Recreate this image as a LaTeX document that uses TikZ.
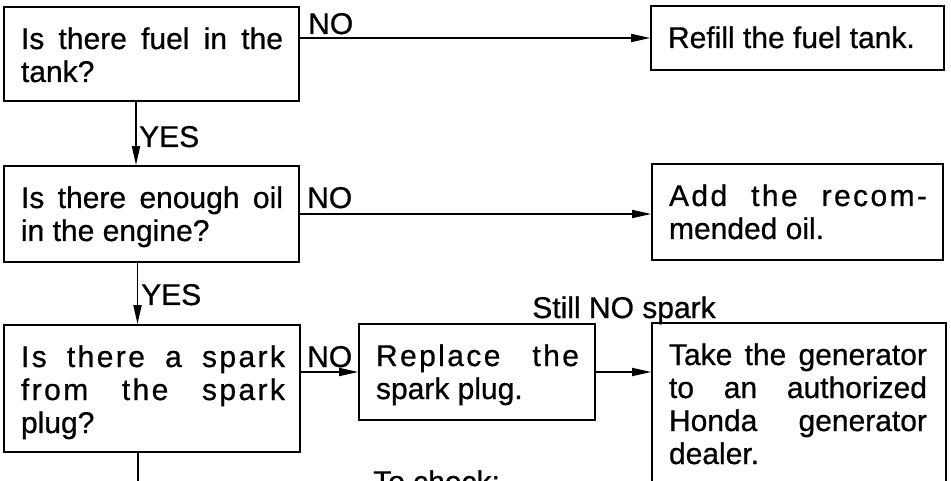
\documentclass[tikz,border=0pt]{standalone}
\usepackage{fontspec}
\setmainfont{Liberation Sans}[FakeBold=0.7]
\newfontfamily\widefont{Liberation Sans}[LetterSpace=8,FakeBold=0.7]
\usetikzlibrary{arrows.meta}
\newcommand\fbx[3]{\parbox[c][#2][t]{#1}{\setlength\parindent{0pt}\setlength\leftskip{17pt}\setlength\rightskip{0pt plus 1fil}\vspace*{20pt}\setlength\baselineskip{33pt}\rule{0pt}{22pt}#3\par}}
\begin{document}
\begin{tikzpicture}[x=1pt,y=-1pt,
  font=\fontsize{30}{33}\selectfont,
  boxnode/.style={draw, line width=1.7pt, inner sep=0pt, rectangle},
  conn/.style={line width=1.7pt},
  arr/.style={conn, -{Triangle[length=19pt,width=8pt]}},
  lbl/.style={inner sep=0pt, anchor=base west}]
\useasboundingbox (0,0) rectangle (951,481);
\fill[white] (0,0) rectangle (951,481);
\clip (0,0) rectangle (951,481);

\node[boxnode] (b1) at (151.5,54) {\fbx{295pt}{94pt}{\makebox[262pt][s]{Is there fuel in the}\\ tank?}};
\node[boxnode] (b2) at (151.5,214) {\fbx{295pt}{96pt}{\makebox[262pt][s]{Is there enough oil}\\ in the engine?}};
\node[boxnode] (b3) at (152,388.5) {\fbx{296pt}{127pt}{\makebox[264pt][s]{\widefont Is there a spark}\\ \makebox[264pt][s]{\widefont from the spark}\\ plug?}};
\node[boxnode] (r1) at (797.5,38) {\fbx{293pt}{64pt}{Refill the fuel tank.}};
\node[boxnode] (r2) at (797.5,212) {\fbx{291pt}{96pt}{\makebox[258pt][s]{\widefont Add the recom-}\\ mended oil.}};
\node[boxnode] (rp) at (477,372) {\fbx{236pt}{96pt}{\makebox[203pt][s]{\widefont Replace the}\\ spark plug.}};
\node[boxnode] (tk) at (799,413) {\fbx{294pt}{180pt}{\makebox[258pt][s]{Take the generator}\\ \makebox[258pt][s]{to an authorized}\\ \makebox[258pt][s]{Honda generator}\\ dealer.}};

% NO branches
\draw[arr] (b1.east |- r1.west) -- (r1.west);
\node[lbl] (no1) at (308,34) {NO};
\draw[arr] (b2.east) -- (b2.east -| r2.west);
\node[lbl] (no2) at (307,208) {NO};
\draw[arr] (b3.east |- rp.west) -- (rp.west);
\node[lbl] (no3) at (307,367) {NO};
\draw[arr] (rp.east) -- (rp.east -| tk.west);
\node[lbl, anchor=base] (still) at (624,318) {Still NO spark};

% YES branches
\draw[arr] ([xshift=-15.5pt]b1.south) -- ([xshift=-15.5pt]b1.south |- b2.north);
\node[lbl] (yes1) at (139,147) {YES};
\draw[arr] ([xshift=-14pt]b2.south) -- ([xshift=-14pt]b2.south |- b3.north);
\node[lbl] (yes2) at (141,305) {YES};

% continuation
\coordinate (down) at ([xshift=-14pt]b3.south |- 0,495);
\draw[conn] ([xshift=-14pt]b3.south) -- (down);
\node[lbl] (check) at (373,492) {To check:};
\end{tikzpicture}
\end{document}
